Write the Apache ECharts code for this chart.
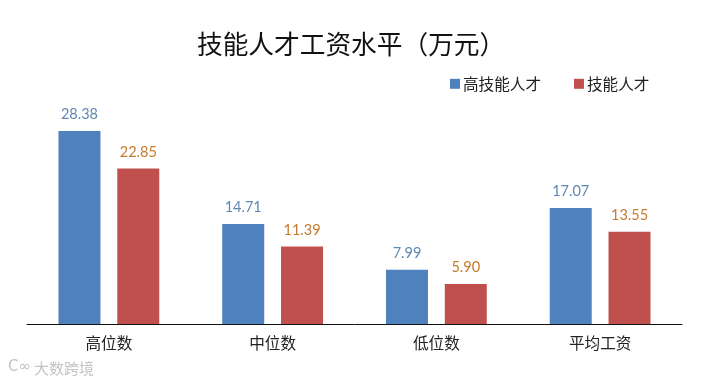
<!DOCTYPE html>
<html><head><meta charset="utf-8">
<style>html,body{margin:0;padding:0;background:#fff}#c{width:710px;height:384px}</style>
<script src="https://cdn.jsdelivr.net/npm/echarts@6/dist/echarts.min.js"></script>
</head><body><div id="c"></div>
<script>
const categories = ['高位数','中位数','低位数','平均工资'];
const highSkill = [28.38,14.71,7.99,17.07];
const skill = [22.85,11.39,5.90,13.55];
const cjk = '"Noto Sans CJK SC"';
const chart = echarts.init(document.getElementById('c'));
const label = color => ({show:true,position:'top',distance:9,color,fontFamily:'Lato',fontSize:14.5,formatter:p=>p.value.toFixed(2)});
chart.setOption({
  animation:false,
  backgroundColor:'#fff',
  title:{text:'技能人才工资水平（万元）',left:197,top:31,padding:0,textStyle:{fontFamily:cjk,fontSize:25.7,fontWeight:400,color:'#111'}},
  legend:{left:450,top:76,padding:0,itemWidth:10,itemHeight:10,itemGap:33,icon:'rect',
    textStyle:{fontFamily:cjk,fontSize:15.6,color:'#222',padding:[0,0,0,-2]}},
  grid:{left:27,right:28,top:120,bottom:60},
  xAxis:{type:'category',data:categories,axisLine:{lineStyle:{color:'#111',width:1}},axisTick:{show:false},
    axisLabel:{fontFamily:cjk,fontSize:15.6,color:'#222',margin:11}},
  yAxis:{type:'value',min:0,max:30,show:false,splitLine:{show:false}},
  series:[
    {name:'高技能人才',type:'bar',data:highSkill,barWidth:42,barGap:'40%',itemStyle:{color:'#4f81bd'},label:label('#5f87b3')},
    {name:'技能人才',type:'bar',data:skill,barWidth:42,itemStyle:{color:'#c0504d'},label:label('#c47b2d')}
  ],
  graphic:[{type:'text',left:34,top:361,style:{text:'大数跨境',fontFamily:cjk,fontSize:15,fill:'#c4c4c4'}},
           {type:'text',left:8,top:360,style:{text:'C∞',fontFamily:'DejaVu Sans',fontSize:15,fill:'#c4c4c4'}}]
});
</script></body></html>
